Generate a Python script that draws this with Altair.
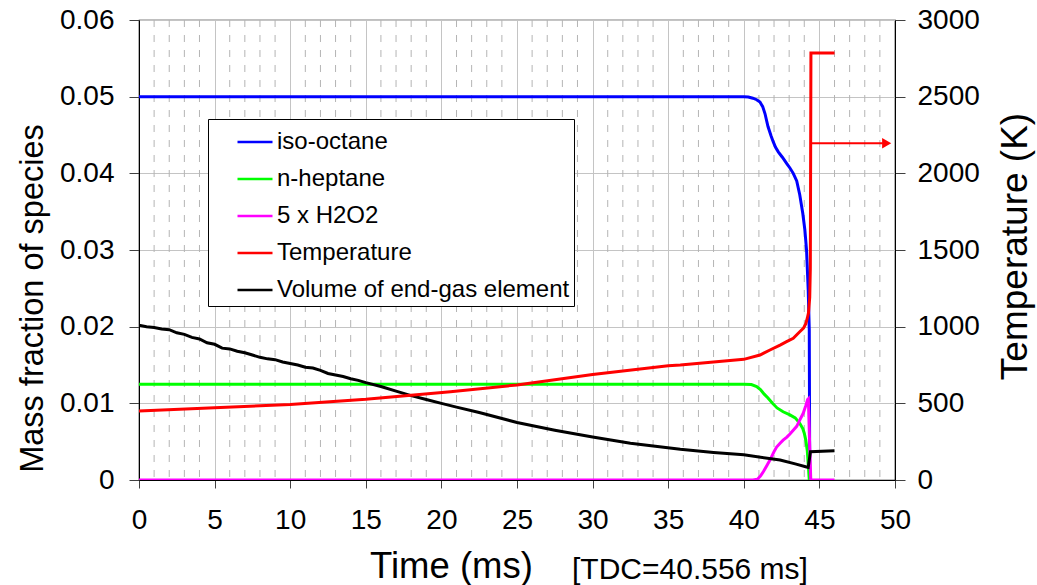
import altair as alt
import pandas as pd

FONT = "Liberation Sans"

series_names = ["iso-octane", "n-heptane", "5 x H2O2", "Temperature", "Volume of end-gas element"]
series_colors = ["#0000ff", "#00ff00", "#ff00ff", "#ff0000", "#000000"]

# iso-octane mass fraction
iso_t = [0, 40.0, 40.3, 40.6, 40.85, 41.07, 41.25, 41.4, 41.6, 41.8, 41.95, 42.1, 42.28, 42.55,
         42.83, 43.05, 43.27, 43.5, 43.7, 43.9, 44.04, 44.15, 44.26, 44.33, 44.36]
iso_v = [0.05, 0.05, 0.04995, 0.0498, 0.0496, 0.0493, 0.0487, 0.0478, 0.0461, 0.0449, 0.0441, 0.0434,
         0.0428, 0.0421, 0.0413, 0.0407, 0.0400, 0.0390, 0.0372, 0.0348, 0.0326, 0.0300, 0.0248, 0.0196, 0.0]

# n-heptane mass fraction
hep_t = [0, 40.0, 40.5, 40.85, 41.1, 41.35, 41.6, 41.9, 42.2, 42.6, 43.05, 43.4, 43.7, 43.9,
         44.0, 44.1, 44.2, 44.28, 44.33]
hep_v = [0.0125, 0.0125, 0.01245, 0.0122, 0.0118, 0.0112, 0.0107, 0.0100, 0.0094, 0.0089, 0.0085,
         0.0081, 0.0074, 0.0067, 0.0061, 0.0052, 0.0038, 0.0015, 0.0]

# 5 x H2O2 mass fraction
h2o2_t = [0, 40.6, 40.9, 41.1, 41.3, 41.5, 41.73, 42.0, 42.17, 42.4, 42.6, 42.85, 43.05, 43.27,
          43.5, 43.7, 43.93, 44.1, 44.22, 44.27, 44.35, 44.43, 46.0]
h2o2_v = [0, 0, 0.0001, 0.0005, 0.0011, 0.0018, 0.0026, 0.0037, 0.0043, 0.0048, 0.0052, 0.0056,
          0.0060, 0.0065, 0.0070, 0.0078, 0.0087, 0.0097, 0.0105, 0.0106, 0.005, 0.0, 0.0]

# Temperature (K)
temp_t = [0, 5, 10, 15, 20.6, 25, 30, 35, 35.8, 38, 40, 41.07, 41.73, 42.4, 42.83, 43.27, 43.7,
          43.95, 44.1, 44.2, 44.28, 44.36, 44.40, 44.44, 46.0]
temp_v = [450, 471, 493, 526, 576, 620, 688, 745, 750, 770, 787, 815, 848, 880, 902, 924, 967,
          990, 1020, 1055, 1090, 1190, 1380, 2785, 2785]

# Volume of end-gas element (plotted on the left axis)
vol_t = [0, 0.5, 1, 1.5, 2, 2.5, 3, 3.5, 4, 4.5, 5, 5.5, 6, 6.5, 7, 7.5, 8, 8.5, 9, 9.5, 10,
         10.5, 11, 11.5, 12, 12.5, 13, 13.5, 14, 14.5, 15, 16, 17, 18, 19, 20, 21, 22.5, 25,
         27.5, 30, 32.5, 35.8, 38, 40, 42.4, 43.4, 44.15, 44.26, 44.41, 46.0]
vol_v = [0.0202, 0.0200, 0.0199, 0.0197, 0.0196, 0.0192, 0.0190, 0.0186, 0.0184, 0.0179, 0.0177,
         0.0172, 0.0171, 0.0168, 0.0166, 0.0163, 0.0160, 0.0158, 0.0157, 0.0154, 0.0152, 0.0150,
         0.0147, 0.0146, 0.0143, 0.0139, 0.0137, 0.0135, 0.0132, 0.0130, 0.0127, 0.0122, 0.0116,
         0.0110, 0.0105, 0.0100, 0.0095, 0.0088, 0.0075, 0.0065, 0.0056, 0.0048, 0.0040, 0.0036,
         0.0033, 0.0026, 0.0021, 0.0017, 0.00165, 0.0037, 0.0038]

# arrow pointing at the temperature axis
arrow_t = [44.44]
arrow_t2 = [49.2]
arrow_v = [2196]
arrow_head_t = [49.45]

x_ticks = [0, 5, 10, 15, 20, 25, 30, 35, 40, 45, 50]
x_minor = [1, 2, 3, 4, 6, 7, 8, 9, 11, 12, 13, 14, 16, 17, 18, 19, 21, 22, 23, 24, 26, 27, 28, 29,
           31, 32, 33, 34, 36, 37, 38, 39, 41, 42, 43, 44, 46, 47, 48, 49]
y_left_ticks = [0, 0.01, 0.02, 0.03, 0.04, 0.05, 0.06]
y_right_ticks = [0, 500, 1000, 1500, 2000, 2500, 3000]

W, H = 756, 460


def frame(t, v, name):
    return pd.DataFrame({"t": t, "v": v, "series": name})


x_enc = alt.X(
    "t:Q",
    scale=alt.Scale(domain=[0, 50], nice=False, zero=False),
    axis=alt.Axis(
        values=x_ticks, format="d", labelFontSize=28, labelFont=FONT, labelColor="black",
        labelPadding=18, labelFlush=False, tickSize=8, tickColor="#404040", domainColor="black",
        grid=True, gridColor="#c4c4c4", gridWidth=1,
        title="Time (ms)", titleFontSize=36.5, titleFont=FONT, titleFontWeight="normal",
        titleColor="black", titleX=312, titleY=97, titleAlign="center", titleBaseline="alphabetic",
    ),
)

y_left = alt.Y(
    "v:Q",
    scale=alt.Scale(domain=[0, 0.06], nice=False),
    axis=alt.Axis(
        orient="left", values=y_left_ticks, format="~g", labelFontSize=28, labelFont=FONT,
        labelColor="black", labelPadding=15, labelFlush=False, tickSize=10, tickColor="#404040",
        domainColor="black", grid=True, gridColor="#c4c4c4", gridWidth=1,
        title="Mass fraction of species", titleFontSize=32.5, titleFont=FONT,
        titleFontWeight="normal", titleColor="black", titleAngle=270, titleX=-107, titleY=278,
        titleAlign="center", titleBaseline="middle",
    ),
)

y_right = alt.Y(
    "v:Q",
    scale=alt.Scale(domain=[0, 3000], nice=False),
    axis=alt.Axis(
        orient="right", values=y_right_ticks, format="d", labelFontSize=28, labelFont=FONT,
        labelColor="black", labelPadding=12, labelFlush=False, tickSize=10, tickColor="#404040",
        domainColor="black", grid=False,
        title="Temperature (K)", titleFontSize=37, titleFont=FONT, titleFontWeight="normal",
        titleColor="black", titleAngle=270, titleX=120, titleY=226, titleAlign="center",
        titleBaseline="middle",
    ),
)

color_enc = alt.Color(
    "series:N",
    scale=alt.Scale(domain=series_names, range=series_colors),
    sort=series_names,
    title=None,
    legend=alt.Legend(
        orient="none", legendX=69, legendY=99, symbolType="stroke", symbolSize=1225,
        symbolStrokeWidth=2.5, labelFontSize=24, labelFont=FONT, labelColor="black",
        labelOffset=3, strokeColor="black", fillColor="white", padding=4, rowPadding=6,
        symbolOffset=24, labelLimit=400,
    ),
)

minor_grid = alt.Chart(pd.DataFrame({"t": x_minor})).mark_rule(
    color="#b4b4b4", strokeWidth=1, strokeDash=[7, 8]
).encode(x=x_enc, y=alt.value(0), y2=alt.value(H))


def left_line(t, v, name):
    return alt.Chart(frame(t, v, name)).mark_line(strokeWidth=3, clip=True).encode(
        x=x_enc, y=y_left, color=color_enc
    )


left = alt.layer(
    left_line(iso_t, iso_v, "iso-octane"),
    left_line(hep_t, hep_v, "n-heptane"),
    left_line(h2o2_t, h2o2_v, "5 x H2O2"),
    left_line(vol_t, vol_v, "Volume of end-gas element"),
)

temp_line = alt.Chart(frame(temp_t, temp_v, "Temperature")).mark_line(strokeWidth=3).encode(
    x=x_enc, y=y_right, color=color_enc
)
arrow_rule = alt.Chart(pd.DataFrame({"t": arrow_t, "t2": arrow_t2, "v": arrow_v})).mark_rule(
    color="#ff0000", strokeWidth=2
).encode(x=x_enc, x2="t2:Q", y=y_right)
arrow_head = alt.Chart(pd.DataFrame({"t": arrow_head_t, "v": arrow_v})).mark_point(
    shape="triangle-right", filled=True, color="#ff0000", size=110, opacity=1
).encode(x=x_enc, y=y_right)

right = alt.layer(temp_line, arrow_rule, arrow_head)

tdc = alt.Chart(pd.DataFrame({"txt": ["[TDC=40.556 ms]"]})).mark_text(
    align="left", baseline="alphabetic", fontSize=30, font=FONT, color="black"
).encode(x=alt.value(433), y=alt.value(559), text="txt:N")

chart = alt.layer(minor_grid, left, right, tdc).resolve_scale(y="independent").properties(
    width=W, height=H,
    padding={"left": 139, "top": 20, "right": 142, "bottom": 105},
    autosize=alt.AutoSizeParams(type="none"),
    background="white",
).configure_view(stroke="black", strokeWidth=1.2)

chart.save("out.html", embed_options={"renderer": "svg", "actions": False})
